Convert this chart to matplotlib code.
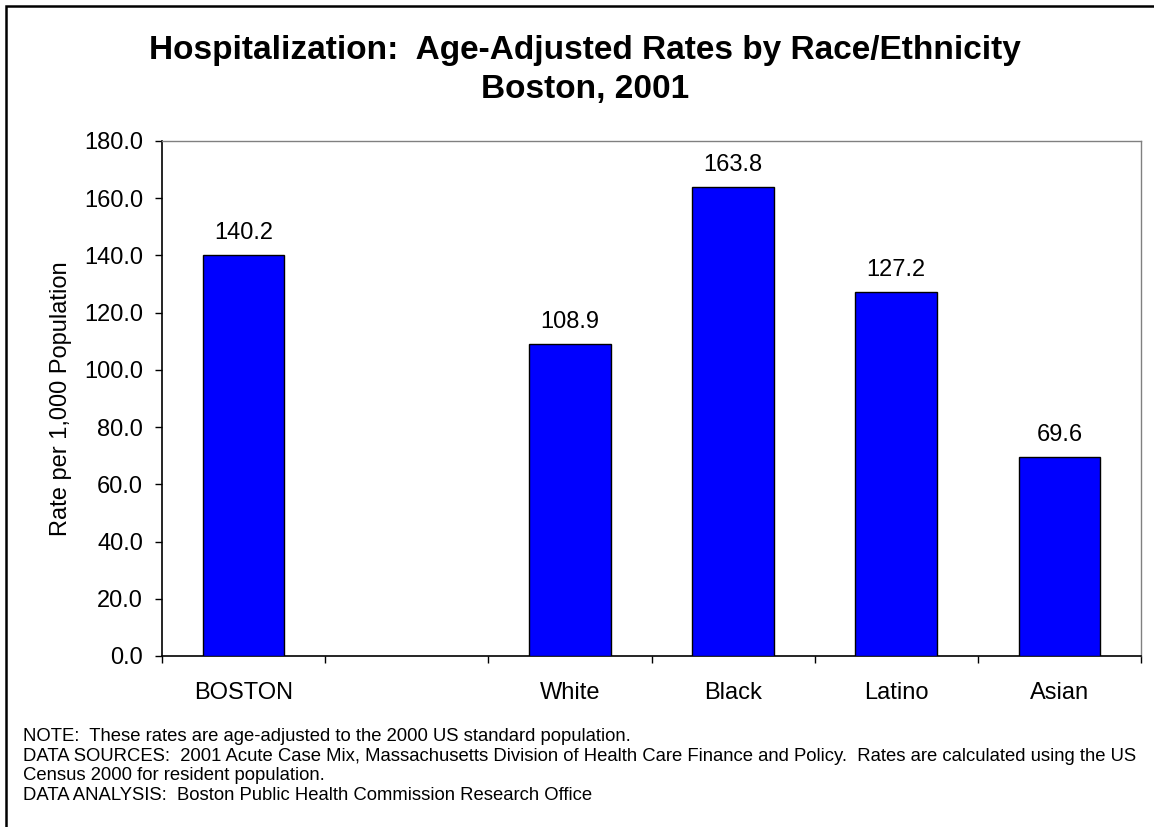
import numpy as np
import matplotlib
matplotlib.use("Agg")
import matplotlib.pyplot as plt
from matplotlib.patches import Rectangle

categories = ["BOSTON", "", "White", "Black", "Latino", "Asian"]
values = [140.2, np.nan, 108.9, 163.8, 127.2, 69.6]
yticks = [0, 20, 40, 60, 80, 100, 120, 140, 160, 180]

title = "Hospitalization:  Age-Adjusted Rates by Race/Ethnicity\nBoston, 2001"
ylabel = "Rate per 1,000 Population"
notes = [
    "NOTE:  These rates are age-adjusted to the 2000 US standard population.",
    "DATA SOURCES:  2001 Acute Case Mix, Massachusetts Division of Health Care Finance and Policy.  Rates are calculated using the US",
    "Census 2000 for resident population.",
    "DATA ANALYSIS:  Boston Public Health Commission Research Office",
]

plt.rcParams['font.family'] = ['Liberation Sans', 'DejaVu Sans']

W, H = 1154, 827
fig = plt.figure(figsize=(W / 100, H / 100), dpi=100)
ax = fig.add_axes([162 / W, 1 - 656 / H, (1141 - 162) / W, (656 - 141) / H])

x = np.arange(len(categories))
ax.bar(x, values, width=0.5, color="#0000FF", edgecolor="black", linewidth=1.0, zorder=3)

for xi, v in zip(x, values):
    if not np.isnan(v):
        ax.annotate(f"{v:.1f}", (xi, v), xytext=(0, 11.5), textcoords="offset points",
                    ha="center", va="baseline", fontsize=17)

ax.set_xlim(-0.5, len(categories) - 0.5)
ax.set_ylim(0, 180)
ax.set_yticks(yticks)
ax.set_yticklabels([f"{t:.1f}" for t in yticks], fontsize=17)
ax.tick_params(axis="y", direction="out", length=5, width=1, pad=8.6)

ax.set_xticks(np.arange(len(categories) + 1) - 0.5)
ax.set_xticklabels([])
ax.tick_params(axis="x", which="major", direction="out", length=5, width=1)
ax.set_xticks(x, minor=True)
ax.set_xticklabels(categories, minor=True, fontsize=17)
ax.tick_params(axis="x", which="minor", length=0, pad=19)

ax.set_ylabel(ylabel, fontsize=17)
ax.yaxis.set_label_coords(-0.092, 0.5)

for s in ["top", "right"]:
    ax.spines[s].set_color("#808080")
    ax.spines[s].set_linewidth(1.0)
for s in ["left", "bottom"]:
    ax.spines[s].set_color("black")
    ax.spines[s].set_linewidth(1.2)

lines = title.split("\n")
fig.text(585 / W, 1 - 59 / H, lines[0], ha="center", va="baseline", fontsize=24, fontweight="bold")
fig.text(585 / W, 1 - 98 / H, lines[1], ha="center", va="baseline", fontsize=24, fontweight="bold")

baselines = [741, 761, 780, 800]
for t, b in zip(notes, baselines):
    fig.text(23 / W, 1 - b / H, t, ha="left", va="baseline", fontsize=13.3)

fig.patches.append(Rectangle((6 / W, -0.1), 1.2, 1.1 - 6 / H, transform=fig.transFigure,
                             fill=False, edgecolor="black", linewidth=1.8))

fig.savefig("out.png", dpi=100)
